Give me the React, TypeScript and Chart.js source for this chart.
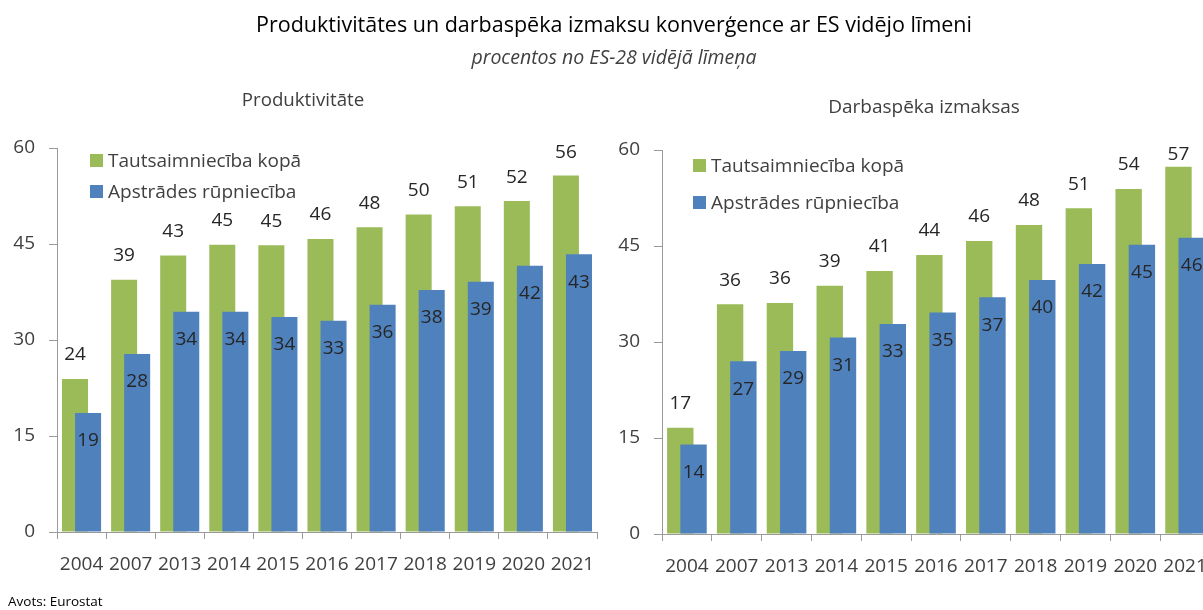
import React, { useEffect, useRef } from "react";
import { Chart, registerables } from "chart.js";

Chart.register(...registerables);

// ---------- data ----------
const years = ["2004", "2007", "2013", "2014", "2015", "2016", "2017", "2018", "2019", "2020", "2021"];
const seriesNames = ["Tautsaimniecība kopā", "Apstrādes rūpniecība"];
// Produktivitāte
const prodTotal = [23.9, 39.4, 43.2, 44.9, 44.8, 45.8, 47.6, 49.6, 50.9, 51.7, 55.7];
const prodManuf = [18.6, 27.8, 34.4, 34.4, 33.6, 33.0, 35.5, 37.8, 39.1, 41.6, 43.4];
// Darbaspēka izmaksas
const costTotal = [16.6, 35.9, 36.1, 38.8, 41.1, 43.6, 45.8, 48.3, 50.9, 53.9, 57.4];
const costManuf = [14.0, 27.0, 28.6, 30.7, 32.8, 34.6, 37.0, 39.7, 42.2, 45.2, 46.3];
const yTicks = [0, 15, 30, 45, 60];

const mainTitle = "Produktivitātes un darbaspēka izmaksu konverģence ar ES vidējo līmeni";
const subTitle = "procentos no ES-28 vidējā līmeņa";
const leftTitle = "Produktivitāte";
const rightTitle = "Darbaspēka izmaksas";
const sourceText = "Avots: Eurostat";

// ---------- styles ----------
const GREEN = "#9bbb59";
const BLUE = "#4f81bd";
const FONT = "'Open Sans', 'Noto Sans', sans-serif";
const TEXT = "#404040";
const AXIS = "#9a9a9a";
const BAR_SHIFT = 0.133; // fraction of a category by which each series is offset from the centre

// shifts the hidden per-series category axes so the two series overlap like in the reference
const shiftPlugin = {
  id: "shiftAxes",
  afterLayout(chart: any) {
    ["xg", "xb"].forEach((id) => {
      const s = chart.scales[id];
      if (!s) return;
      const frac = s.options.shiftFrac || 0;
      const cat = (s.right - s.left) / years.length;
      s.left += frac * cat;
      s.right += frac * cat;
      s.configure();
    });
  },
};

const labelPlugin = {
  id: "valueLabels",
  afterDatasetsDraw(chart: any) {
    const ctx = chart.ctx;
    ctx.save();
    ctx.font = `19px ${FONT}`;
    ctx.fillStyle = "#262626";
    ctx.textAlign = "center";
    ctx.textBaseline = "middle";
    chart.data.datasets.forEach((ds: any, i: number) => {
      if (!ds.role) return;
      const meta = chart.getDatasetMeta(i);
      meta.data.forEach((el: any, j: number) => {
        const v = ds.data[j];
        if (v == null) return;
        let y: number;
        if (ds.role === "total") {
          y = Math.max(el.y - 24, chart.chartArea.top + 5);
        } else {
          y = el.y + 28;
        }
        ctx.fillText(String(Math.round(v)), el.x, y);
      });
    });
    ctx.restore();
  },
};

function makeConfig(total: number[], manuf: number[], yWidth: number, padding: any): any {
  const barOpts = { grouped: false, categoryPercentage: 0.53, barPercentage: 1, borderWidth: 0 };
  return {
    type: "bar",
    data: {
      labels: years,
      datasets: [
        { label: seriesNames[0], role: "total", data: total, backgroundColor: GREEN, xAxisID: "xg", order: 1, ...barOpts },
        { label: seriesNames[1], role: "manuf", data: manuf, backgroundColor: BLUE, xAxisID: "xb", order: 0, ...barOpts },
      ],
    },
    options: {
      responsive: false,
      animation: false,
      events: [],
      layout: { padding },
      plugins: { legend: { display: false }, tooltip: { enabled: false }, title: { display: false } },
      scales: {
        x: {
          type: "category",
          labels: years,
          offset: true,
          grid: { display: true, drawOnChartArea: false, offset: true, tickLength: 7, color: AXIS, lineWidth: 1 },
          border: { display: true, color: AXIS, width: 1 },
          ticks: { font: { family: FONT, size: 19 }, color: TEXT, padding: 14, maxRotation: 0, autoSkip: false },
          afterFit: (s: any) => {
            s.height = 50;
            s.paddingLeft = 0;
            s.paddingRight = 0;
          },
        },
        xg: { type: "category", labels: years, offset: true, display: false, shiftFrac: -BAR_SHIFT },
        xb: { type: "category", labels: years, offset: true, display: false, shiftFrac: BAR_SHIFT },
        y: {
          min: 0,
          max: 60,
          afterBuildTicks: (s: any) => { s.ticks = yTicks.map((v) => ({ value: v })); },
          grid: { display: true, drawOnChartArea: false, tickLength: 8, color: AXIS, lineWidth: 1 },
          border: { display: true, color: AXIS, width: 1 },
          ticks: { font: { family: FONT, size: 19 }, color: TEXT, padding: 14 },
          afterFit: (s: any) => { s.width = yWidth; },
        },
      },
    },
    plugins: [shiftPlugin, labelPlugin],
  };
}

function BarPanel(props: { total: number[]; manuf: number[]; left: number; width: number; yWidth: number; padding: any }) {
  const ref = useRef<HTMLCanvasElement | null>(null);
  useEffect(() => {
    if (!ref.current) return;
    const chart = new Chart(ref.current, makeConfig(props.total, props.manuf, props.yWidth, props.padding));
    return () => chart.destroy();
  }, []);
  return (
    <canvas
      ref={ref}
      width={props.width}
      height={610}
      style={{ position: "absolute", left: props.left, top: 0, width: props.width, height: 610 }}
    />
  );
}

function LegendBox(props: { left: number; top: number; gap: number }) {
  const item = (color: string, text: string, top: number) => (
    <div style={{ position: "absolute", left: 0, top, display: "flex", alignItems: "center", whiteSpace: "nowrap" }}>
      <div style={{ width: 13, height: 13, background: color, marginRight: 5 }} />
      <span style={{ fontSize: 19, color: TEXT, lineHeight: "24px" }}>{text}</span>
    </div>
  );
  return (
    <div style={{ position: "absolute", left: props.left, top: props.top, fontFamily: FONT }}>
      {item(GREEN, seriesNames[0], 0)}
      {item(BLUE, seriesNames[1], props.gap)}
    </div>
  );
}

export default function App() {
  return (
    <div
      style={{
        position: "absolute",
        left: 0,
        top: 0,
        width: 1203,
        height: 610,
        overflow: "hidden",
        background: "#ffffff",
        fontFamily: FONT,
      }}
    >
      <BarPanel total={prodTotal} manuf={prodManuf} left={0} width={600} yWidth={57} padding={{ top: 148, bottom: 28, left: 0, right: 3 }} />
      <BarPanel total={costTotal} manuf={costManuf} left={600} width={612} yWidth={62} padding={{ top: 150, bottom: 26, left: 0, right: 2 }} />

      <div style={{ position: "absolute", left: 0, width: 1228, top: 9, textAlign: "center", fontSize: 21.5, color: "#000", whiteSpace: "nowrap" }}>
        {mainTitle}
      </div>
      <div style={{ position: "absolute", left: 0, width: 1228, top: 43, textAlign: "center", fontSize: 19.5, fontStyle: "italic", color: TEXT, whiteSpace: "nowrap" }}>
        {subTitle}
      </div>
      <div style={{ position: "absolute", left: 153, width: 300, top: 86, textAlign: "center", fontSize: 18.7, color: TEXT, whiteSpace: "nowrap" }}>
        {leftTitle}
      </div>
      <div style={{ position: "absolute", left: 774, width: 300, top: 93, textAlign: "center", fontSize: 19, color: TEXT, whiteSpace: "nowrap" }}>
        {rightTitle}
      </div>
      <LegendBox left={90} top={148} gap={31} />
      <LegendBox left={693} top={153} gap={37} />
      <div style={{ position: "absolute", left: 8, top: 592, fontSize: 13.5, color: "#000", whiteSpace: "nowrap" }}>{sourceText}</div>
    </div>
  );
}
